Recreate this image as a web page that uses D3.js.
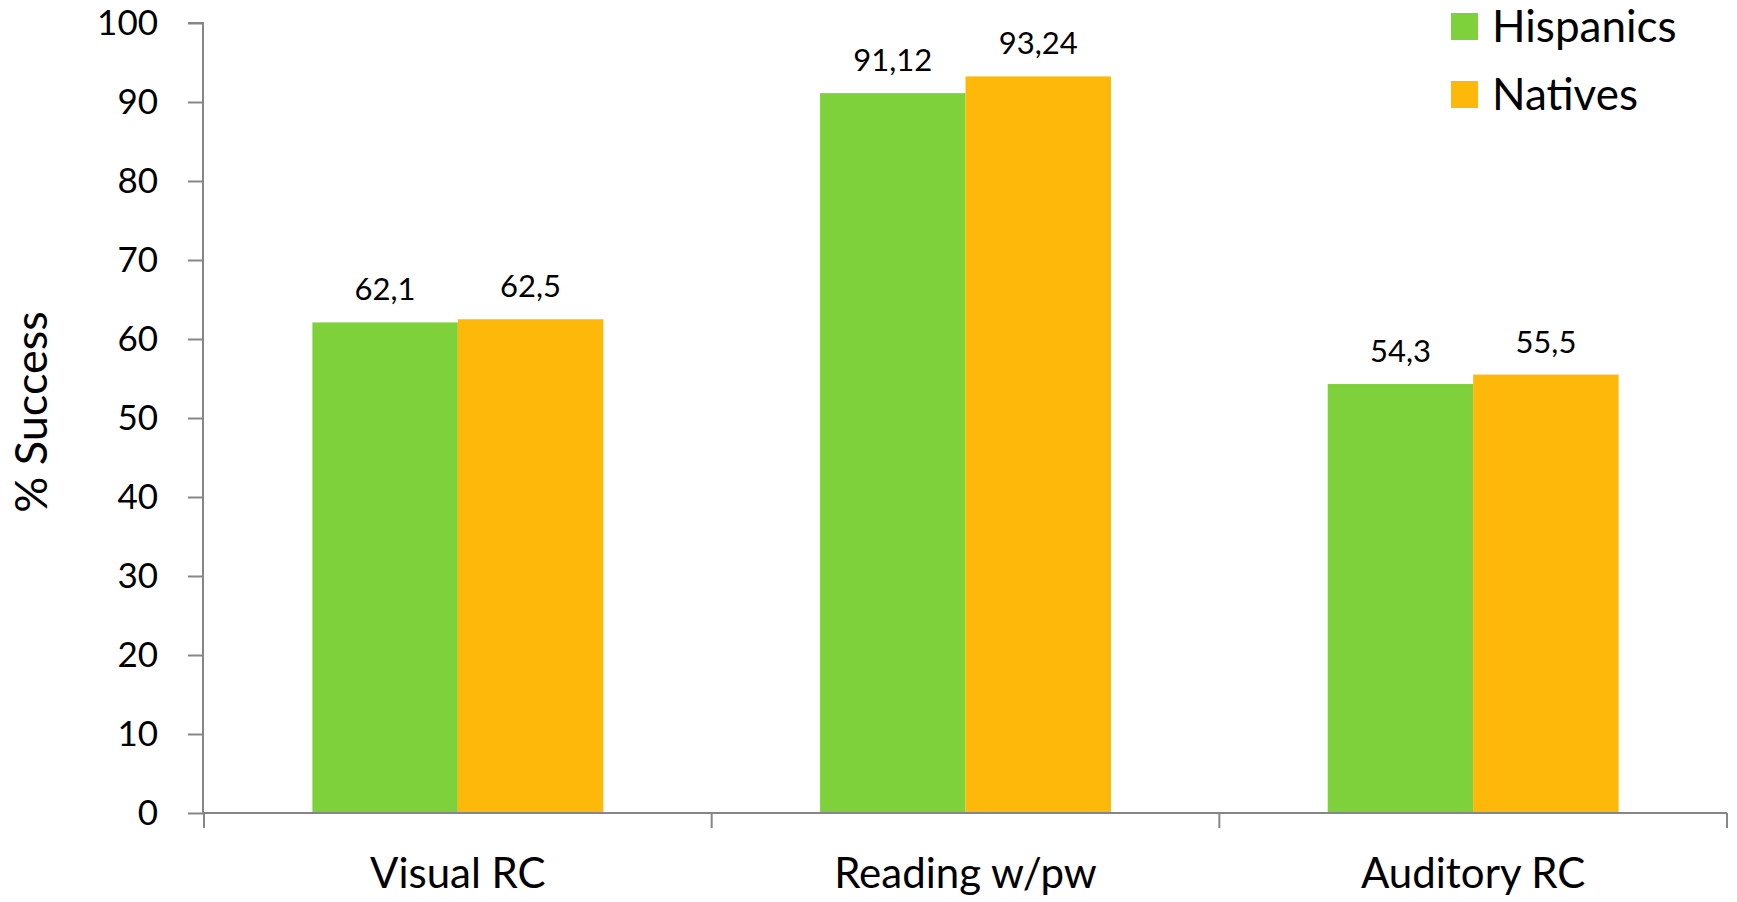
<!DOCTYPE html>
<html>
<head>
<meta charset="utf-8">
<script src="https://cdn.jsdelivr.net/npm/d3@7/dist/d3.min.js"></script>
<style>
  html, body { margin: 0; padding: 0; background: #fff; }
  svg { display: block; }
  text { font-family: "Lato", "Open Sans", sans-serif; fill: #000; }
</style>
</head>
<body>
<svg id="chart" width="1737" height="902"></svg>
<script>
// Categories and series values
const categories = ["Visual RC", "Reading w/pw", "Auditory RC"];
const seriesNames = ["Hispanics", "Natives"];
const hispanics = [62.1, 91.12, 54.3];
const natives = [62.5, 93.24, 55.5];
const valueLabels = [["62,1", "91,12", "54,3"], ["62,5", "93,24", "55,5"]];
const yTicks = [0, 10, 20, 30, 40, 50, 60, 70, 80, 90, 100];
const colors = ["#7FD13B", "#FEB80A"];

const series = [hispanics, natives];
const svg = d3.select("#chart");
const axisColor = "#868686";

const x0 = d3.scaleBand().domain(categories).range([204, 1727])
  .paddingInner(0.427).paddingOuter(0.2135);
const x1 = d3.scaleBand().domain(seriesNames).range([0, x0.bandwidth()]);
const y = d3.scaleLinear().domain([0, 100]).range([813, 23]);

// Bars and their value labels
seriesNames.forEach((name, si) => {
  svg.append("g").selectAll("rect")
    .data(categories)
    .join("rect")
    .attr("x", c => x0(c) + x1(name))
    .attr("y", (c, i) => y(series[si][i]))
    .attr("width", x1.bandwidth())
    .attr("height", (c, i) => y(0) - y(series[si][i]))
    .attr("fill", colors[si]);

  svg.append("g").selectAll("text")
    .data(categories)
    .join("text")
    .attr("x", c => x0(c) + x1(name) + x1.bandwidth() / 2)
    .attr("y", (c, i) => y(series[si][i]) - 22)
    .attr("text-anchor", "middle")
    .style("font-size", "31px")
    .text((c, i) => valueLabels[si][i]);
});

// Y axis
const yAxis = svg.append("g")
  .attr("transform", "translate(203,0)")
  .call(d3.axisLeft(y).tickValues(yTicks).tickSize(15).tickPadding(30));
yAxis.select(".domain").attr("stroke", axisColor).attr("stroke-width", 2)
  .attr("d", `M-15,${y(100)}H0V${y(0)}`);
yAxis.selectAll(".tick line").attr("stroke", axisColor).attr("stroke-width", 2);
yAxis.selectAll(".tick text").style("font-size", "35px")
  .style("font-family", "Lato, 'Open Sans', sans-serif").attr("fill", "#000");

// X axis with boundary ticks between categories
const xAxisG = svg.append("g").attr("transform", `translate(0,${y(0)})`);
xAxisG.append("line").attr("x1", 203).attr("x2", 1727).attr("y1", 0).attr("y2", 0)
  .attr("stroke", axisColor).attr("stroke-width", 2);
const step = x0.step();
const boundaries = d3.range(categories.length + 1).map(i => 204 + i * step);
xAxisG.selectAll(".bt").data(boundaries).join("line")
  .attr("x1", d => d).attr("x2", d => d).attr("y1", 0).attr("y2", 15)
  .attr("stroke", axisColor).attr("stroke-width", 2);
xAxisG.selectAll(".cl").data(categories).join("text")
  .attr("x", c => x0(c) + x0.bandwidth() / 2)
  .attr("y", 75)
  .attr("text-anchor", "middle")
  .style("font-size", "42px")
  .text(c => c);

// Y axis title
svg.append("text")
  .attr("transform", "translate(47,412) rotate(-90)")
  .attr("text-anchor", "middle")
  .style("font-size", "45px")
  .text("% Success");

// Legend
const legend = svg.append("g");
seriesNames.forEach((name, i) => {
  legend.append("rect").attr("x", 1451).attr("y", 13 + i * 68)
    .attr("width", 27).attr("height", 27).attr("fill", colors[i]);
  legend.append("text").attr("x", 1492).attr("y", 42 + i * 68)
    .style("font-size", "44px").text(name);
});
</script>
</body>
</html>
